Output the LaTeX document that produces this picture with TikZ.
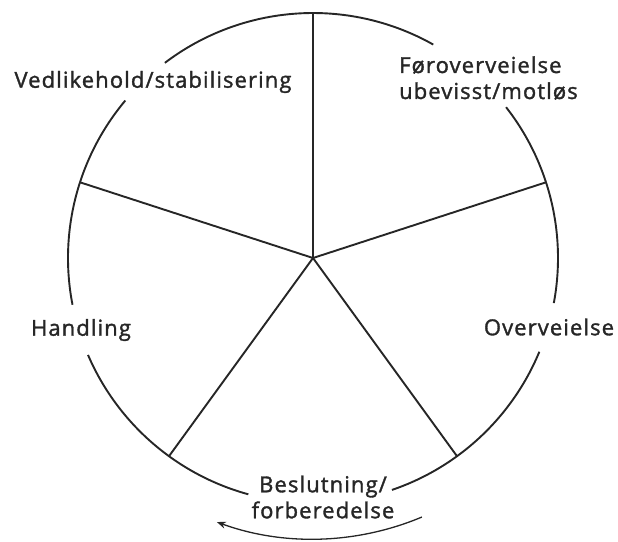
\documentclass[tikz,border=0pt]{standalone}
\usepackage{fontspec}
\setmainfont{Open Sans}[LetterSpace=5,UprightFeatures={FakeBold=1.5}]
\usetikzlibrary{arrows.meta}
\begin{document}
\begin{tikzpicture}[x=1pt,y=1pt,
  ring/.style={line width=1.9pt, black!85},
  spoke/.style={line width=1.9pt, black!85},
  lab/.style={font=\fontsize{22}{26}\selectfont, text=black!85, inner sep=0pt, align=center},
  cyc/.style={line width=1.3pt, black!85, -{Stealth[length=9pt,width=7pt]}}]
\useasboundingbox (0,0) rectangle (618,-541);
\coordinate (O) at (313,-258);
\def\R{245}
% spokes
\foreach \a/\n in {90/a,18/b,306/c,234/d,162/e}{
  \path (O) ++(\a:\R) coordinate (s\n);
  \draw[spoke] (O) -- (s\n);
}
% ring segments
\draw[ring] ([shift={(60.6:\R)}]O) arc[start angle=60.6, end angle=127.2, radius=\R];
\draw[ring] ([shift={(140:\R)}]O) arc[start angle=140, end angle=191, radius=\R];
\draw[ring] ([shift={(203.3:\R)}]O) arc[start angle=203.3, end angle=254.7, radius=\R];
\draw[ring] ([shift={(288.8:\R)}]O) arc[start angle=288.8, end angle=337.5, radius=\R];
\draw[ring] ([shift={(-10.6:\R)}]O) arc[start angle=-10.6, end angle=38, radius=\R];
% cycle arrow
\draw[cyc] ([shift={(-67.2:281)}]O) arc[start angle=-67.2, end angle=-110, radius=281];
% labels
\node[lab] (ved) at (153,-82) {Vedlikehold/stabilisering};
\node[lab, align=left, anchor=west] (for) at (399,-78) {Føroverveielse\\ubevisst/motløs};
\node[lab] (ove) at (549,-327) {Overveielse};
\node[lab] (bes) at (323,-497) {Beslutning/\\forberedelse};
\node[lab] (han) at (81,-330) {Handling};
\end{tikzpicture}
\end{document}
